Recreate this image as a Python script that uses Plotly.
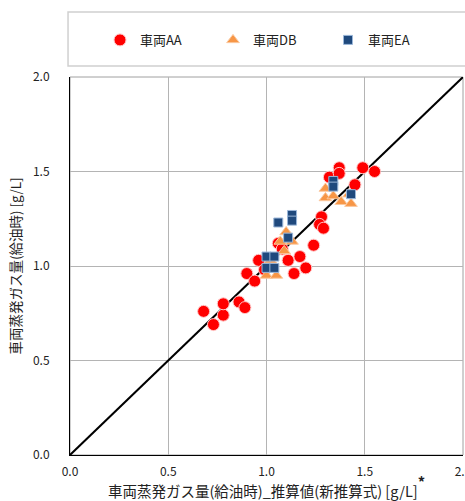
import plotly.graph_objects as go

# 車両AA
aa_x = [0.68, 0.73, 0.78, 0.78, 0.86, 0.89, 0.90, 0.94, 0.96, 0.99, 1.06, 1.08, 1.11,
        1.14, 1.17, 1.20, 1.24, 1.28, 1.27, 1.29, 1.32, 1.37, 1.37, 1.49, 1.55, 1.45]
aa_y = [0.76, 0.69, 0.74, 0.80, 0.81, 0.78, 0.96, 0.92, 1.03, 0.98, 1.12, 1.09, 1.03,
        0.96, 1.05, 0.99, 1.11, 1.26, 1.22, 1.20, 1.47, 1.52, 1.49, 1.52, 1.50, 1.43]
# 車両DB
db_x = [1.30, 1.30, 1.34, 1.38, 1.43, 1.42, 1.10, 1.07, 1.13, 1.09, 1.02, 1.00, 1.05]
db_y = [1.41, 1.36, 1.37, 1.34, 1.33, 1.38, 1.18, 1.13, 1.13, 1.08, 1.03, 0.95, 0.95]
# 車両EA
ea_x = [1.34, 1.34, 1.43, 1.06, 1.13, 1.13, 1.11, 1.00, 1.04, 1.00, 1.04]
ea_y = [1.45, 1.42, 1.38, 1.23, 1.27, 1.24, 1.15, 1.05, 1.05, 0.99, 0.99]

line_xy = [0.0, 2.0]
ticks = [0.0, 0.5, 1.0, 1.5, 2.0]
tick_text = ["0.0", "0.5", "1.0", "1.5", "2.0"]

font = "Noto Sans CJK JP"

fig = go.Figure()
fig.add_trace(go.Scatter(x=line_xy, y=line_xy, mode="lines",
                         line=dict(color="black", width=2), showlegend=False,
                         hoverinfo="skip"))
fig.add_trace(go.Scatter(x=aa_x, y=aa_y, mode="markers", name="車両AA", legend="legend",
                         marker=dict(symbol="circle", size=12, color="#ff0000",
                                     line=dict(color="#ffc8c8", width=1))))
fig.add_trace(go.Scatter(x=db_x, y=db_y, mode="markers", name="車両DB", legend="legend2",
                         marker=dict(symbol="triangle-up", size=11, color="#f79646",
                                     line=dict(color="#fbc9a0", width=1))))
fig.add_trace(go.Scatter(x=ea_x, y=ea_y, mode="markers", name="車両EA", legend="legend3",
                         marker=dict(symbol="square", size=9, color="#1f497d",
                                     line=dict(color="#9bb7d9", width=1))))

axis_common = dict(range=[0, 2], tickvals=ticks, ticktext=tick_text,
                   showgrid=True, gridcolor="#b4b4b4", gridwidth=1,
                   showline=True, linecolor="black", linewidth=1, mirror=False,
                   zeroline=False, ticks="", tickfont=dict(size=12, color="#222"),
                   ticklabeloverflow="allow", automargin=False, fixedrange=True)

leg_common = dict(orientation="h", y=1.098, xanchor="left", yanchor="middle",
                  bgcolor="rgba(0,0,0,0)", borderwidth=0, font=dict(size=13),
                  itemwidth=30)

fig.update_layout(
    width=465, height=501,
    margin=dict(l=70, r=2, t=77, b=46, autoexpand=False),
    paper_bgcolor="white", plot_bgcolor="white",
    font=dict(family=font, color="#222"),
    xaxis=dict(**axis_common, ticklabelstandoff=6,
               title=dict(text="車両蒸発ガス量(給油時)_推算値(新推算式) [g/L]"
                               "<span style='font-size:21px'><b><sup>*</sup></b></span>",
                          font=dict(size=14.5), standoff=4)),
    yaxis=dict(**axis_common, ticklabelstandoff=17,
               title=dict(text="車両蒸発ガス量(給油時) [g/L]", font=dict(size=13.5),
                          standoff=8)),
    legend=dict(**leg_common, x=(100 - 70) / 393),
    legend2=dict(**leg_common, x=(213 - 70) / 393),
    legend3=dict(**leg_common, x=(328 - 70) / 393),
    shapes=[
        dict(type="rect", xref="paper", yref="paper", x0=-0.005, x1=1.02,
             y0=1.029, y1=1.172, line=dict(color="#d0d0d0", width=1.5),
             fillcolor="white", layer="below"),
        dict(type="rect", xref="paper", yref="paper", x0=0, x1=1,
             y0=0, y1=1, line=dict(color="#a0a0a0", width=1), layer="below"),
    ],
)

fig.write_html("out.html")
